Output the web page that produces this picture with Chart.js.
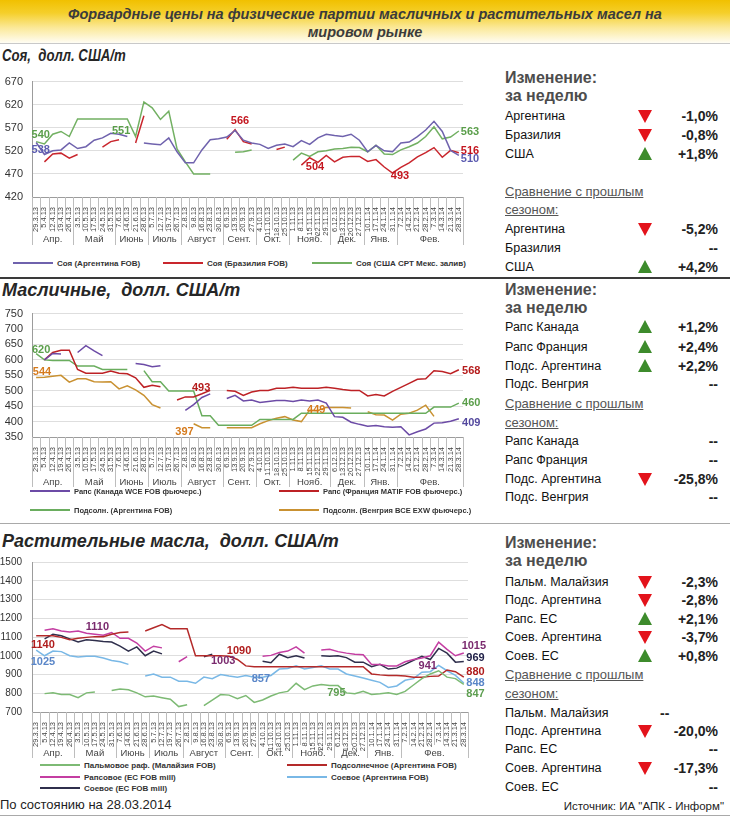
<!DOCTYPE html>
<html>
<head>
<meta charset="utf-8">
<script src="https://cdn.jsdelivr.net/npm/chart.js@4.4.0/dist/chart.umd.min.js"></script>
<style>
body { margin: 0; width: 730px; height: 817px; position: relative; background: #fff; overflow: hidden;
       font-family: "Liberation Sans", Arial, sans-serif; }
.abs { position: absolute; white-space: nowrap; }
#title { left: 0; top: 0; width: 730px; height: 43px; border-bottom: 1px solid #c9c9c9;
         background: linear-gradient(#f1c000 0%, #f5cf2a 30%, #fbe99a 65%, #fffdf4 100%); }
#title div { text-align: center; font: bold italic 14.5px "Liberation Sans", Arial; color: #3b3b3b; line-height: 18px; }
.head { font-weight: bold; font-style: italic; color: #262626; transform-origin: left center; }
.leg { font: bold 8px "Liberation Sans", Arial; color: #333; line-height: 10px; }
.leg i { display: inline-block; width: 40px; height: 2px; vertical-align: middle; margin-right: 4px; position: relative; top: -1px; }
.th { font: bold 16px "Liberation Sans", Arial; color: #4d4d4d; line-height: 18px; }
.tc { font: 13px "Liberation Sans", Arial; color: #555; text-decoration: underline; line-height: 16px; }
.tn { font: 12.5px "Liberation Sans", Arial; color: #111; line-height: 16px; }
.tv { font: bold 14px "Liberation Sans", Arial; color: #222; line-height: 16px; text-align: right; }
.dn { width: 0; height: 0; border-left: 7px solid transparent; border-right: 7px solid transparent; border-top: 13px solid #e3131b; }
.up { width: 0; height: 0; border-left: 7px solid transparent; border-right: 7px solid transparent; border-bottom: 13px solid #3d8b2c; }
.hr { left: 0; width: 730px; height: 0; }
</style>
</head>
<body>
<div id="title" class="abs">
  <div style="margin-top:5px">Форвардные цены на физические партии масличных и растительных масел на</div>
  <div>мировом рынке</div>
</div>

<div class="abs head" style="left:2px;top:46px;font-size:16.5px;transform:scaleX(0.8)">Соя,&nbsp; долл. США/т</div>
<div class="abs head" style="left:2px;top:280px;font-size:18px">Масличные,&nbsp; долл. США/т</div>
<div class="abs head" style="left:2px;top:531px;font-size:18px">Растительные масла,&nbsp; долл. США/т</div>

<canvas id="c1" class="abs" width="490" height="186" style="left:0;top:66px"></canvas>
<canvas id="c2" class="abs" width="490" height="190" style="left:0;top:298px"></canvas>
<canvas id="c3" class="abs" width="490" height="214" style="left:0;top:546px"></canvas>

<div class="abs hr" style="top:277px;border-top:2px solid #3a3a3a"></div>
<div class="abs hr" style="top:523px;border-top:1px solid #a9a9a9"></div>
<div class="abs hr" style="top:815px;border-top:1px solid #a9a9a9"></div>

<div class="abs" style="left:0;top:797px;font-size:13px;color:#222">По состоянию на 28.03.2014</div>
<div class="abs" style="right:6px;top:800px;font-size:11.5px;color:#222">Источник: ИА "АПК - Информ"</div>

<script>
// weekly dates on the category axis
const weeks = ['29.3.13', '5.4.13', '12.4.13', '19.4.13', '26.4.13', '3.5.13', '10.5.13', '17.5.13', '24.5.13', '31.5.13',
    '7.6.13', '14.6.13', '21.6.13', '28.6.13', '5.7.13', '12.7.13', '19.7.13', '26.7.13', '2.8.13', '9.8.13',
    '16.8.13', '23.8.13', '30.8.13', '6.9.13', '13.9.13', '20.9.13', '27.9.13', '4.10.13', '11.10.13', '18.10.13',
    '25.10.13', '1.11.13', '8.11.13', '15.11.13', '22.11.13', '29.11.13', '6.12.13', '13.12.13', '20.12.13', '27.12.13',
    '10.1.14', '17.1.14', '24.1.14', '31.1.14', '7.2.14', '14.2.14', '21.2.14', '28.2.14', '7.3.14', '14.3.14',
    '21.3.14', '28.3.14'];
const monthNames = ['Апр.', 'Май', 'Июнь', 'Июль', 'Август', 'Сент.', 'Окт.', 'Нояб.', 'Дек.', 'Янв.', 'Фев.'];
const monthSpans = [5, 5, 4, 4, 5, 4, 4, 5, 4, 4, 8];

// Соя
const soyArgentina = [538, 512, 520, 522, 537, 525, 529, 543, 548, 558,
    556, 551, null, 537, 535, 533, 548, 518, 494, 494,
    522, 544, 546, 550, 564, 543, 537, 534, 525, 532,
    535, 529, 542, 534, 548, 556, 553, 551, 556, 543,
    518, 532, 520, 518, 537, 539, 551, 565, 584, 562,
    521, 510];
const soyBrazil = [null, 496, 513, 515, 504, 512, null, null, 528, 540,
    544, null, 537, 596, null, null, null, null, null, null,
    null, null, null, 545, 566, 540, 535, null, null, 523,
    528, null, 489, 505, 495, 510, 496, 506, 508, 508,
    497, 501, 485, 472, 484, 494, 507, 516, 527, 506,
    521, 516];
const soyUSA = [540, 535, 556, 562, 551, 589, 589, 589, 589, 589,
    589, 589, 551, 626, 613, 588, 606, 524, 496, 470,
    470, 470, null, null, 517, 518, 522, null, null, null,
    null, 500, 515, 508, 518, 520, 524, 525, 528, 527,
    518, 532, 513, 512, 522, 529, 537, 551, 572, 546,
    550, 563];
// value callouts: text, week index, price level, series
const soyNotes = [['540', 0.55, 554, 2], ['538', 0.55, 521, 0], ['551', 10.25, 564, 2], ['566', 24.6, 585, 1],
    ['504', 33.65, 486, 1], ['493', 43.9, 465, 1], ['563', 52.35, 560, 2], ['516', 52.35, 519, 1], ['510', 52.35, 502, 0]];

// Масличные
const rapeCanada = [null, 600, 621, 619, null, 624, 646, 629, 614, null,
    null, null, 588, 585, 578, 581, null, null, 436, 455,
    478, 490, null, 475, 485, 467, 470, 462, 465, 468,
    468, 465, 470, 467, 470, 460, 416, 414, 398, 391,
    385, 387, 383, 382, 383, 357, 367, 376, 395, 396,
    401, 409];
const rapeFrance = [null, 600, 624, 631, 631, 569, 557, 557, 557, 564,
    557, 555, 542, 511, 518, 513, null, 470, 480, 480,
    490, 501, null, 501, 498, 485, 496, 501, 501, 508,
    508, 511, 508, 508, 508, 511, 508, 504, 501, 501,
    483, 488, 483, 498, 511, 524, 537, 539, 565, 562,
    555, 568];
const sunArgentina = [620, 600, 598, 598, 598, 580, 580, 580, 569, 569,
    569, 569, null, 565, 529, 529, 499, 499, 499, 499,
    419, 419, 388, 388, 388, 388, 388, 407, 407, 407,
    407, 407, 427, 427, 427, 427, 427, 427, 427, 427,
    427, 427, 427, 427, 427, 427, 427, 427, 447, 447,
    447, 460];
const sunHungary = [543, 544, 547, 550, 528, 539, 539, 529, 528, 529,
    506, 516, 503, 485, 455, 444, null, null, null, 393,
    380, 380, null, 380, 380, 380, 380, 393, 403, 411,
    416, 405, 400, 437, 436, 446, 446, 446, 444, null,
    432, 422, 421, 405, 424, 427, 437, 453, 417, null,
    null, null];
const seedNotes = [['620', 0.6, 633, 2], ['544', 0.7, 562, 3], ['493', 19.9, 510, 1], ['397', 17.9, 365, 3],
    ['449', 33.8, 439, 3], ['568', 52.5, 565, 1], ['460', 52.5, 461, 2], ['409', 52.5, 396, 0]];

// Растительные масла
const palmMalaysia = [null, 798, 802, 793, 793, 776, 802, 807, null, 815,
    822, 819, 802, 781, 785, 776, 768, 729, 739, null,
    734, 763, 793, 790, 771, 788, 751, 764, 785, 802,
    810, 853, 819, 839, 847, 841, 841, 802, 797, 810,
    793, 797, 802, 793, 810, 844, 878, 903, 920, 886,
    878, 847];
const sunOilArgentina = [1107, 1107, 1107, 1098, 1085, 1093, 1098, 1102, 1102, 1115,
    1124, 1127, null, 1132, 1149, 1166, 1144, 1144, 1144, 1000,
    1000, 1000, 1000, 997, 980, 946, 942, 942, 942, 942,
    942, 942, 942, 942, 942, 942, 942, 942, 942, 942,
    903, 898, 895, 895, 892, 886, 886, 890, 892, 924,
    915, 886];
const rapeOilEU = [null, 1136, 1144, 1132, 1127, 1132, 1120, 1115, 1110, 1124,
    1093, 1093, 1068, 1025, 1051, 1042, null, 968, 995, null,
    null, null, null, null, null, null, null, 997, 1002, 1017,
    1025, 1047, 1014, null, 1031, 1034, 1022, 1014, 1008, 1005,
    954, 954, 946, 946, 968, 980, 988, 1000, 1073, 1034,
    1000, 1015];
const soyOilArgentina = [1030, 1000, 1025, 1022, 1000, 993, 997, 997, 988, 975,
    968, 954, null, 892, 903, 886, 886, 864, 864, 853,
    886, 878, 900, 892, 886, 895, 886, 886, 895, 929,
    932, 946, 929, 937, 946, 929, 929, 903, 892, 881,
    869, 858, 831, 839, 869, 878, 912, 915, 949, 920,
    895, 855];
const soyOilEU = [null, 1090, 1115, 1107, 1090, 1073, 1085, 1081, 1076, 1073,
    1051, 1025, 1047, 1000, 1025, 1010, null, null, null, null,
    995, 1008, null, null, null, null, null, 971, 963, 1008,
    990, 1000, 988, null, 1000, 997, 1000, 990, 966, 966,
    942, 954, 929, 934, 954, 976, 997, 980, 1039, 1014,
    966, 969];
const oilNotes = [['1140', 0.8, 1059, 1], ['1025', 0.8, 968, 3], ['1110', 7.3, 1151, 2], ['1090', 24.2, 1024, 1],
    ['1003', 22.3, 973, 2], ['857', 26.8, 877, 3], ['795', 35.8, 801, 0], ['941', 46.7, 943, 2],
    ['1015', 52.2, 1054, 2], ['969', 52.4, 989, 4], ['880', 52.4, 913, 1], ['848', 52.4, 857, 3], ['847', 52.4, 796, 0]];

// tables on the right
const soyWeekNames = ['Аргентина', 'Бразилия', 'США'];
const soyWeekChange = ['-1,0%', '-0,8%', '+1,8%'];
const soySeasonNames = ['Аргентина', 'Бразилия', 'США'];
const soySeasonChange = ['-5,2%', '--', '+4,2%'];
const seedWeekNames = ['Рапс Канада', 'Рапс Франция', 'Подс. Аргентина', 'Подс. Венгрия'];
const seedWeekChange = ['+1,2%', '+2,4%', '+2,2%', '--'];
const seedSeasonNames = ['Рапс Канада', 'Рапс Франция', 'Подс. Аргентина', 'Подс. Венгрия'];
const seedSeasonChange = ['--', '--', '-25,8%', '--'];
const oilWeekNames = ['Пальм. Малайзия', 'Подс. Аргентина', 'Рапс. ЕС', 'Соев. Аргентина', 'Соев. ЕС'];
const oilWeekChange = ['-2,3%', '-2,8%', '+2,1%', '-3,7%', '+0,8%'];
const oilSeasonNames = ['Пальм. Малайзия', 'Подс. Аргентина', 'Рапс. ЕС', 'Соев. Аргентина', 'Соев. ЕС'];
const oilSeasonChange = ['--', '-20,0%', '--', '-17,3%', '--'];

const FONT = '"Liberation Sans", Arial, sans-serif';

// category separators and the month row under the rotated dates
function monthAxis(cfg) {
    return {
        id: 'monthAxis',
        afterDraw(chart) {
            const x = chart.scales.x, ctx = chart.ctx, top = x.top;
            const ends = new Set();
            let acc = 0;
            monthSpans.forEach(n => { acc += n; ends.add(acc); });
            ctx.save();
            ctx.strokeStyle = '#bdbdbd';
            ctx.lineWidth = 1;
            for (let i = 0; i <= weeks.length; i++) {
                const px = Math.round(x.getPixelForValue(i - 0.5)) + 0.5;
                const len = (i === 0 || ends.has(i)) ? cfg.groupLen : cfg.tickLen;
                ctx.beginPath();
                ctx.moveTo(px, top);
                ctx.lineTo(px, top + len);
                ctx.stroke();
            }
            ctx.fillStyle = '#444';
            ctx.font = '9.5px ' + FONT;
            ctx.textAlign = 'center';
            ctx.textBaseline = 'middle';
            let start = 0;
            monthSpans.forEach((n, k) => {
                const cx = (x.getPixelForValue(start - 0.5) + x.getPixelForValue(start + n - 0.5)) / 2;
                ctx.fillText(monthNames[k], cx, top + cfg.monthY);
                start += n;
            });
            ctx.restore();
        }
    };
}

// value callouts placed through the scales
function callouts(notes, noteColors) {
    return {
        id: 'callouts',
        afterDatasetsDraw(chart) {
            const ctx = chart.ctx, x = chart.scales.x, y = chart.scales.y;
            ctx.save();
            ctx.font = 'bold 11px ' + FONT;
            ctx.textAlign = 'center';
            ctx.textBaseline = 'middle';
            notes.forEach(([text, idx, val, s]) => {
                ctx.fillStyle = noteColors[s];
                ctx.fillText(text, x.getPixelForValue(idx), y.getPixelForValue(val));
            });
            ctx.restore();
        }
    };
}

function makeChart(id, series, cfg) {
    new Chart(document.getElementById(id), {
        type: 'line',
        data: {
            labels: weeks,
            datasets: series.map(s => ({
                label: s.name, data: s.data, borderColor: s.color, backgroundColor: s.color,
                borderWidth: 1.5, pointRadius: 0, tension: 0, spanGaps: false
            }))
        },
        options: {
            responsive: false,
            animation: false,
            layout: { padding: { top: cfg.padTop, right: cfg.padRight, left: 0, bottom: 0 } },
            plugins: { legend: { display: false }, tooltip: { enabled: false } },
            scales: {
                x: {
                    offset: true,
                    grid: { display: false },
                    border: { color: '#9c9c9c' },
                    ticks: { autoSkip: false, minRotation: 90, maxRotation: 90, padding: 2, color: '#444',
                             font: { size: 7.5, family: FONT } },
                    afterFit: s => { s.height = cfg.xHeight; }
                },
                y: {
                    min: cfg.min, max: cfg.max,
                    ticks: { stepSize: cfg.step, autoSkip: false, padding: cfg.yPad, color: '#333',
                             font: { size: cfg.ySize, family: FONT }, callback: v => String(v) },
                    grid: { color: '#dedede', drawTicks: false },
                    border: { color: '#9c9c9c' },
                    afterFit: s => { s.width = 32; }
                }
            }
        },
        plugins: [monthAxis(cfg), callouts(cfg.notes, series.map(s => s.note))]
    });
}

const soySeries = [
    { name: 'Соя (Аргентина  FOB)', data: soyArgentina, color: '#6f62ad', note: '#5b5bb0' },
    { name: 'Соя (Бразилия  FOB)', data: soyBrazil, color: '#c9262d', note: '#c4161f' },
    { name: 'Соя (США  СРТ Мекс. залив)', data: soyUSA, color: '#72b062', note: '#5a9e4a' }
];
const seedSeries = [
    { name: 'Рапс (Канада WCE FOB фьючерс.)', data: rapeCanada, color: '#6c4ba6', note: '#53489e' },
    { name: 'Рапс (Франция MATIF FOB фьючерс.)', data: rapeFrance, color: '#bd2125', note: '#b51c1c' },
    { name: 'Подсолн. (Аргентина  FOB)', data: sunArgentina, color: '#6aad5e', note: '#5a9e4a' },
    { name: 'Подсолн. (Венгрия BCE EXW фьючерс.)', data: sunHungary, color: '#c99131', note: '#d57a1c' }
];
const oilSeries = [
    { name: 'Пальмовое раф. (Малайзия  FOB)', data: palmMalaysia, color: '#7dba74', note: '#5d9e50' },
    { name: 'Подсолнечное (Аргентина  FOB)', data: sunOilArgentina, color: '#b42a2a', note: '#b01c1c' },
    { name: 'Рапсовое (ЕС  FOB mill)', data: rapeOilEU, color: '#c43ea2', note: '#7a2a6e' },
    { name: 'Соевое (Аргентина  FOB)', data: soyOilArgentina, color: '#79b8e6', note: '#5a86c8' },
    { name: 'Соевое (ЕС  FOB mill)', data: soyOilEU, color: '#2f2f4c', note: '#22224a' }
];

makeChart('c1', soySeries, { min: 420, max: 670, step: 50, padTop: 10, padRight: 27, xHeight: 55, yPad: 9, ySize: 11,
    tickLen: 33, groupLen: 48, monthY: 42, notes: soyNotes });
makeChart('c2', seedSeries, { min: 350, max: 750, step: 50, padTop: 9, padRight: 27, xHeight: 51, yPad: 9, ySize: 11,
    tickLen: 34, groupLen: 50, monthY: 45, notes: seedNotes });
makeChart('c3', oilSeries, { min: 700, max: 1500, step: 100, padTop: 8, padRight: 22, xHeight: 48, yPad: 10, ySize: 10,
    tickLen: 33, groupLen: 46, monthY: 41, notes: oilNotes });

// legends
function legendItem(s, left, cy, size) {
    const d = document.createElement('div');
    d.className = 'abs leg';
    d.style.left = left + 'px';
    d.style.top = (cy - 5) + 'px';
    if (size) d.style.fontSize = size + 'px';
    d.innerHTML = '<i style="background:' + s.color + '"></i>' + s.name;
    document.body.appendChild(d);
}
legendItem(soySeries[0], 13, 264);
legendItem(soySeries[1], 163, 264);
legendItem(soySeries[2], 312, 264);
legendItem(seedSeries[0], 30, 492, 7.5);
legendItem(seedSeries[1], 279, 492, 7.5);
legendItem(seedSeries[2], 30, 511, 7.5);
legendItem(seedSeries[3], 279, 511, 7.5);
legendItem(oilSeries[0], 40, 766);
legendItem(oilSeries[2], 40, 778);
legendItem(oilSeries[4], 40, 789);
legendItem(oilSeries[1], 287, 766);
legendItem(oilSeries[3], 287, 778);

// right-hand tables
function put(cls, html, left, cy, h, extra) {
    const d = document.createElement('div');
    d.className = 'abs ' + cls;
    d.style.left = left + 'px';
    d.style.top = (cy - h / 2) + 'px';
    d.innerHTML = html;
    if (extra) Object.assign(d.style, extra);
    document.body.appendChild(d);
}
function row(name, change, cy, valueStyle) {
    put('tn', name, 505, cy, 16);
    if (change !== '--') {
        const down = change[0] === '-';
        put(down ? 'dn' : 'up', '', 638, cy + (down ? 0 : -1), 13);
    }
    put('tv', change, 0, cy, 16, valueStyle || { left: 'auto', right: '12px' });
}
function table(weekNames, weekChange, seasonNames, seasonChange, y) {
    put('th', 'Изменение:', 505, y.head[0], 18);
    put('th', 'за неделю', 505, y.head[1], 18);
    weekNames.forEach((n, i) => row(n, weekChange[i], y.week[i]));
    put('tc', 'Сравнение с прошлым', 505, y.cmp[0], 16);
    put('tc', 'сезоном:', 505, y.cmp[1], 16);
    seasonNames.forEach((n, i) => row(n, seasonChange[i], y.season[i], y.mid && y.mid[i] ? { left: y.mid[i] + 'px' } : null));
}
table(soyWeekNames, soyWeekChange, soySeasonNames, soySeasonChange,
    { head: [78, 96], week: [116, 135, 154], cmp: [192, 210], season: [229, 248, 267] });
table(seedWeekNames, seedWeekChange, seedSeasonNames, seedSeasonChange,
    { head: [290, 308], week: [327, 347, 366, 384], cmp: [404, 423], season: [441, 460, 479, 497] });
table(oilWeekNames, oilWeekChange, oilSeasonNames, oilSeasonChange,
    { head: [543, 561], week: [582, 600, 619, 637, 656], cmp: [675, 694], season: [713, 731, 749, 768, 787], mid: [660] });
</script>
</body>
</html>
